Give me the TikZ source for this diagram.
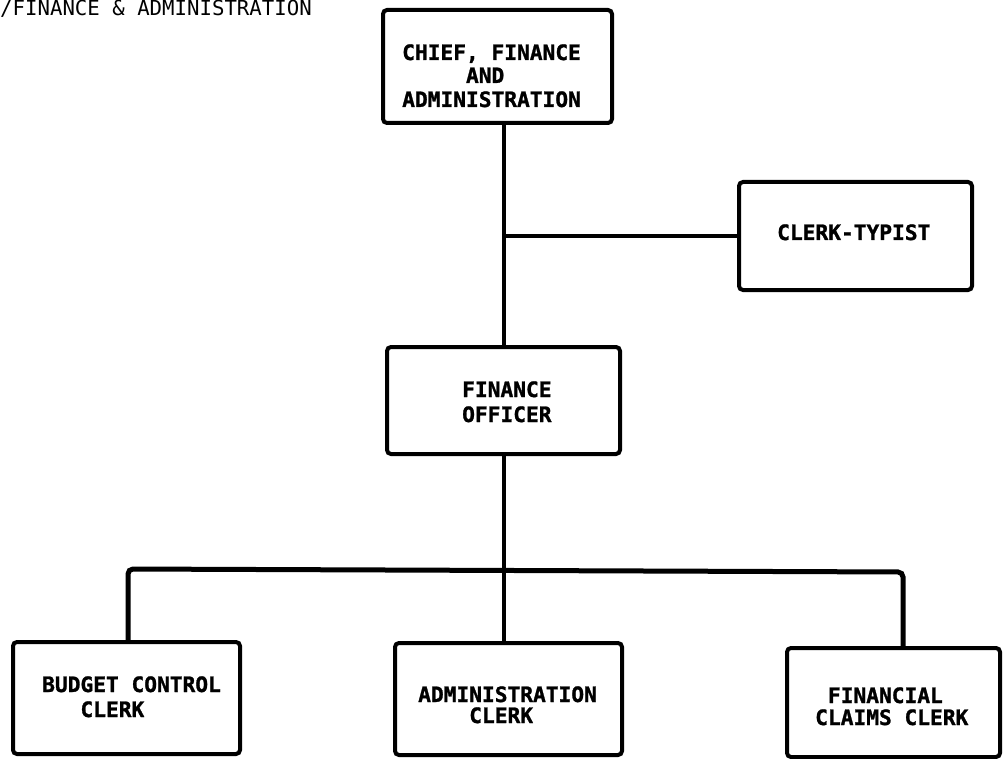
\documentclass[tikz,border=0pt]{standalone}
\usepackage{fontspec}
\newfontfamily\chartmono{DejaVu Sans Mono}
\newfontfamily\chartmonoheavy{DejaVu Sans Mono Bold}[FakeBold=1.2]
\begin{document}
\begin{tikzpicture}[x=1pt,y=-1pt,
  box/.style={draw=black, line width=4pt, rounded corners=4pt, inner sep=0pt,
              fill=none},
  link/.style={draw=black, line width=4pt},
  bus/.style={draw=black, line width=5pt, rounded corners=5pt},
  boxtext/.style={inner sep=0pt, anchor=base west,
                  font=\chartmonoheavy\fontsize{21.2}{24}\selectfont},
  headtext/.style={inner sep=0pt, anchor=base west,
                   font=\chartmono\fontsize{20.7}{24}\selectfont}]
\useasboundingbox (0,0) rectangle (1003,759);
\fill[white] (0,0) rectangle (1003,759);

% heading
\node[headtext] (head) at (0,15.5) {/FINANCE \& ADMINISTRATION};

% boxes
\node[box, minimum width=229pt, minimum height=113pt] (chief)  at (497.5,66.5) {};
\node[box, minimum width=233pt, minimum height=108pt] (ct)     at (855.5,236)  {};
\node[box, minimum width=233pt, minimum height=107pt] (fo)     at (503.5,400.5) {};
\node[box, minimum width=227pt, minimum height=112pt] (budget) at (126.5,698)  {};
\node[box, minimum width=227pt, minimum height=112pt] (admin)  at (508.5,699)  {};
\node[box, minimum width=213pt, minimum height=109pt] (fin)    at (893.5,702.5) {};

% box texts
\node[boxtext] (chief-a) at (402,60)  {CHIEF, FINANCE};
\node[boxtext] (chief-b) at (402,83)  {\hphantom{AAAAA}AND};
\node[boxtext] (chief-c) at (402,107) {ADMINISTRATION};
\node[boxtext] (ct-a)    at (777,240) {CLERK-TYPIST};
\node[boxtext] (fo-a)    at (462,397) {FINANCE};
\node[boxtext] (fo-b)    at (462,422) {OFFICER};
\node[boxtext] (bud-a)   at (42,692)  {BUDGET CONTROL};
\node[boxtext] (bud-b)   at (42,717)  {\hphantom{AAA}CLERK};
\node[boxtext] (adm-a)   at (418,702) {ADMINISTRATION};
\node[boxtext] (adm-b)   at (418,723) {\hphantom{AAAA}CLERK};
\node[boxtext] (fin-a)   at (815,703) {\hphantom{A}FINANCIAL};
\node[boxtext] (fin-b)   at (815,725) {CLAIMS CLERK};

% connectors
\coordinate (tap) at (fo.north |- ct.west);
\draw[link] (fo.north) -- (fo.north |- chief.south);
\draw[link] (tap) -- (ct.west);

\coordinate (busL) at (128,569);
\coordinate (busR) at (903,572);
\draw[bus] (budget.north -| busL) -- (busL) -- (busR) -- (fin.north -| busR);
\draw[link] (fo.south) -- (admin.north -| fo.south);
\end{tikzpicture}
\end{document}
